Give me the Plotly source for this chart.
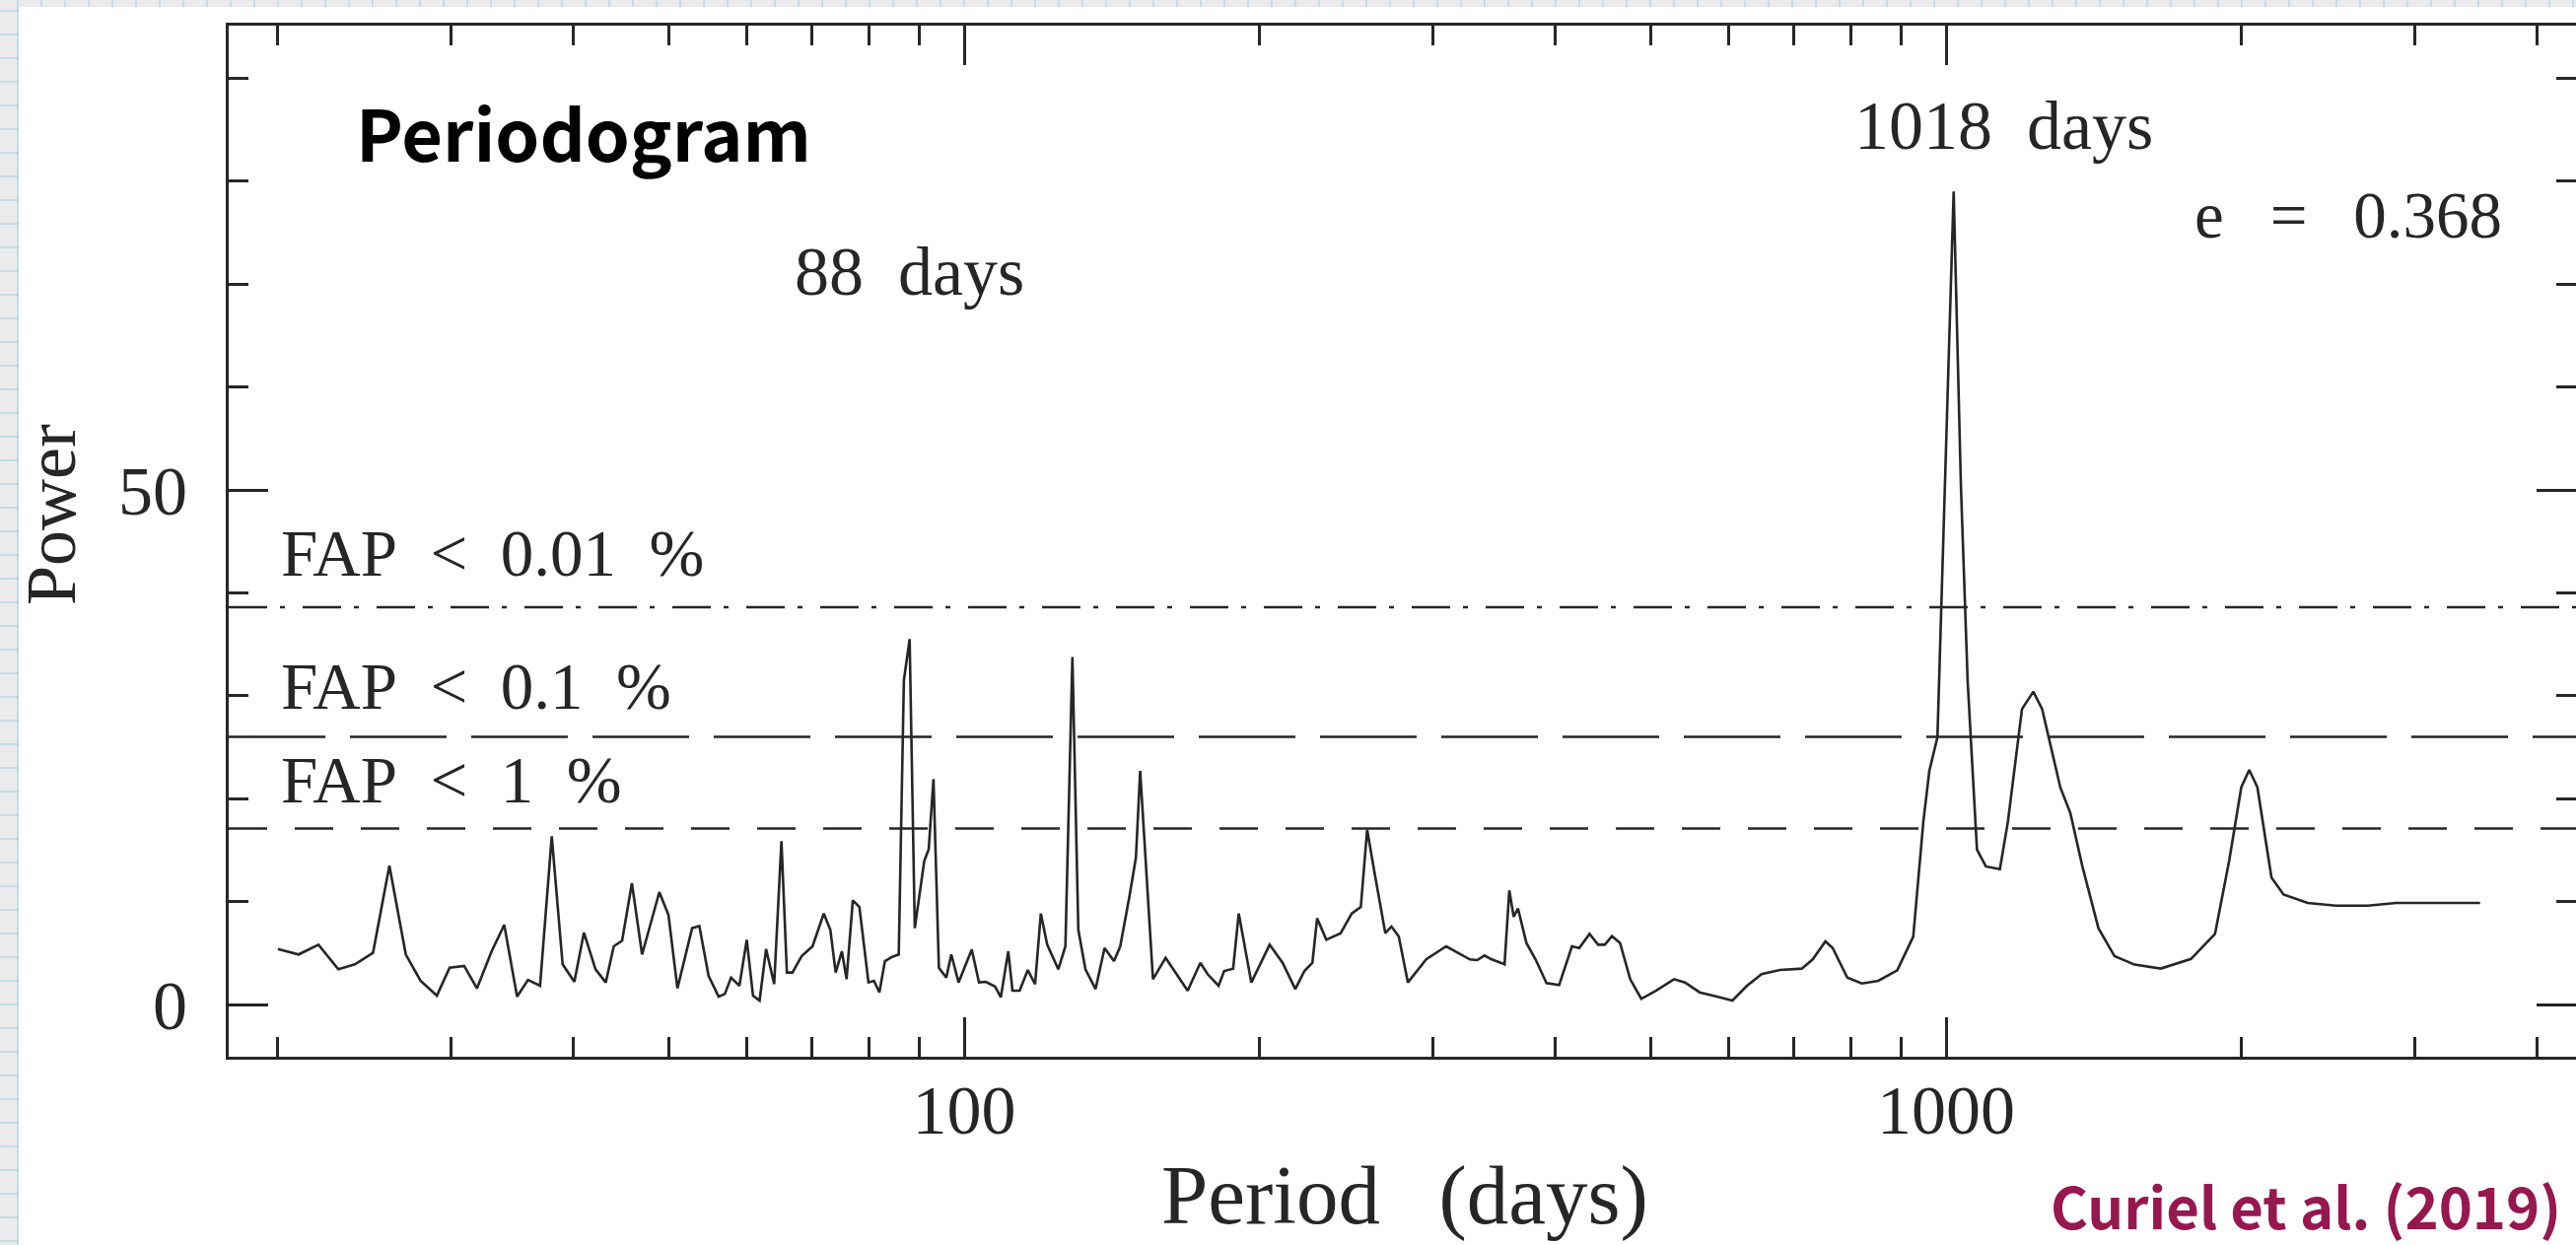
import plotly.graph_objects as go

# ---------------------------------------------------------------------------
# Periodogram of the astrometric residuals (period in days vs. power)
# ---------------------------------------------------------------------------
period_days = [
    20.0, 21.0, 22.0, 23.05, 23.96, 25.0, 25.98, 27.0, 27.95, 29.04,
    29.92, 30.96, 31.9, 33.02, 34.01, 35.05, 35.96, 36.99, 38.02, 39.0,
    40.09, 41.0, 42.13, 43.15, 43.97, 44.84, 45.88, 46.99, 48.93, 49.99,
    51.05, 52.84, 53.74, 54.92, 56.23, 57.05, 57.89, 59.04, 60.06, 60.95,
    61.9, 62.85, 64.05, 65.15, 65.99, 66.85, 68.3, 70.08, 71.95, 73.07,
    73.99, 75.07, 75.9, 77.02, 78.22, 79.9, 80.93, 81.97, 83.04, 84.47,
    85.78, 86.82, 88.0, 89.07, 91.07, 92.02, 93.06, 94.25, 95.9, 97.03,
    98.7, 101.8, 103.55, 105.25, 107.5, 108.98, 110.9, 112.0, 113.9, 116.1,
    118.1, 119.7, 121.5, 124.7, 126.8, 128.9, 130.7, 132.9, 136.1, 139.0,
    142.1, 144.2, 147.3, 149.6, 151.1, 155.7, 160.4, 163.2, 168.9, 174.0,
    177.0, 181.6, 184.0, 187.9, 190.4, 196.1, 204.7, 211.0, 217.4, 222.1,
    226.3, 228.8, 233.8, 241.8, 248.2, 253.5, 257.3, 262.1, 268.5, 272.4,
    277.1, 283.1, 295.5, 309.7, 327.4, 333.0, 338.8, 344.6, 355.1, 359.1,
    362.8, 366.5, 373.8, 381.9, 391.8, 403.6, 415.9, 423.1, 433.4, 442.3,
    449.2, 456.9, 465.6, 476.8, 489.3, 506.3, 528.5, 542.2, 561.1, 583.1,
    605.9, 627.0, 648.8, 677.2, 712.9, 731.4, 753.6, 766.6, 793.3, 820.9,
    853.1, 891.9, 926.0, 948.2, 961.6, 980.0, 1018.0, 1035.4, 1052.0, 1075.2,
    1097.8, 1134.6, 1156.2, 1194.9, 1227.0, 1252.8, 1307.2, 1338.4, 1376.7, 1429.6,
    1484.6, 1556.3, 1654.6, 1775.9, 1879.1, 1942.4, 1998.4, 2036.0, 2075.4, 2145.0,
    2206.6, 2335.1, 2494.6, 2689.7, 2873.7, 3158.0, 3498.5,
]
power = [
    5.39, 4.86, 5.81, 3.42, 3.90, 5.01, 13.48, 4.86, 2.30, 0.86,
    3.57, 3.74, 1.56, 5.17, 7.73, 0.77, 2.39, 1.82, 16.35, 3.90,
    2.20, 6.99, 3.42, 2.14, 5.65, 6.20, 11.78, 4.86, 10.92, 8.69,
    1.56, 7.41, 7.63, 2.78, 0.77, 1.02, 2.61, 1.82, 6.29, 0.86,
    0.38, 5.39, 1.98, 15.87, 3.10, 3.10, 4.69, 5.65, 8.84, 7.25,
    3.10, 5.17, 2.46, 10.12, 9.48, 2.14, 2.30, 1.18, 4.21, 4.63,
    4.86, 31.5, 35.5, 7.41, 13.95, 15.07, 21.9, 3.57, 2.61, 4.86,
    2.14, 5.33, 2.14, 2.20, 1.75, 0.70, 5.17, 1.34, 1.34, 3.35,
    1.98, 8.84, 5.81, 3.42, 5.65, 33.75, 7.25, 3.42, 1.50, 5.49,
    4.21, 5.65, 10.44, 14.27, 22.7, 2.46, 4.53, 3.42, 1.34, 4.05,
    2.94, 1.82, 3.26, 3.48, 8.84, 2.14, 5.81, 4.05, 1.50, 3.26,
    4.05, 8.37, 6.29, 6.93, 8.84, 9.48, 16.98, 12.52, 6.93, 7.57,
    6.61, 2.14, 4.38, 5.65, 4.38, 4.31, 4.76, 4.38, 3.90, 11.08,
    8.53, 9.32, 5.97, 4.38, 2.08, 1.88, 5.65, 5.49, 6.86, 5.81,
    5.81, 6.64, 5.97, 2.46, 0.55, 1.34, 2.46, 2.14, 1.18, 0.80,
    0.38, 1.82, 2.94, 3.35, 3.48, 4.38, 6.13, 5.49, 2.61, 2.04,
    2.30, 3.32, 6.60, 17.78, 22.7, 25.96, 79.0, 50.5, 31.4, 15.05,
    13.42, 13.14, 17.78, 28.7, 30.4, 28.7, 21.1, 18.6, 13.42, 7.41,
    4.69, 3.87, 3.49, 4.42, 6.87, 13.97, 21.1, 22.8, 21.1, 12.33,
    10.69, 9.87, 9.60, 9.60, 9.87, 9.87, 9.87,
]

# False-alarm-probability thresholds
fap_levels = [38.6, 26.0, 17.1]
fap_labels = ["FAP\u2002&lt;\u20020.01\u2002%", "FAP\u2002&lt;\u20020.1\u2002%", "FAP\u2002&lt;\u20021\u2002%"]

# Axis ticks
x_major = [100, 1000]
x_major_text = ["100", "1000"]
x_minor = [20, 30, 40, 50, 60, 70, 80, 90,
           200, 300, 400, 500, 600, 700, 800, 900,
           2000, 3000, 4000]
y_major = [0, 50, 100]
y_major_text = ["0", "50", "100"]
y_minor = [10, 20, 30, 40, 60, 70, 80, 90]

# ---------------------------------------------------------------------------
# Page geometry (pixels)
# ---------------------------------------------------------------------------
W, H = 2613, 1263
PL, PT, PR, PB = 232, 26, 2613, 1072          # plot frame
X_DECADE_PX = 996.0                            # one decade on the period axis
X100_PX = 978.0                                # where P = 100 d sits
Y0_PX, Y_PER_UNIT = 1019.0, 10.44              # power = 0 and px per unit

x_lo = 2 + (PL - X100_PX) / X_DECADE_PX
x_hi = 2 + (PR - X100_PX) / X_DECADE_PX
y_lo = -(PB - Y0_PX) / Y_PER_UNIT
y_hi = (Y0_PX - PT) / Y_PER_UNIT


def px_x(x):
    return (x - PL) / (PR - PL)


def px_y(y):
    return (PB - y) / (PB - PT)


INK = "#262626"
SERIF = "Liberation Serif, Times New Roman, serif"
HAND = "Noto Sans CJK SC, Noto Sans, sans-serif"
PAPER_GREY = "#ebebeb"
GRID_BLUE = "rgba(140,200,232,0.55)"

fig = go.Figure()

fig.add_trace(go.Scatter(
    x=period_days, y=power, mode="lines",
    line=dict(color=INK, width=2.6),
    hoverinfo="skip", showlegend=False,
))
# empty trace that carries the right-hand tick axis
fig.add_trace(go.Scatter(x=[], y=[], yaxis="y2", showlegend=False, hoverinfo="skip"))

shapes = []

# graph-paper backdrop around the white card
for k in range(0, 110):
    gx = 18 + 24 * k
    shapes.append(dict(type="line", xref="paper", yref="paper", layer="below",
                       x0=px_x(gx), x1=px_x(gx), y0=px_y(0), y1=px_y(H),
                       line=dict(color=GRID_BLUE, width=1.5)))
for k in range(0, 54):
    gy = 11 + 24 * k
    shapes.append(dict(type="line", xref="paper", yref="paper", layer="below",
                       x0=px_x(0), x1=px_x(W), y0=px_y(gy), y1=px_y(gy),
                       line=dict(color=GRID_BLUE, width=1.5)))
shapes.append(dict(type="rect", xref="paper", yref="paper", layer="below",
                   x0=px_x(19), x1=px_x(W + 20), y0=px_y(7), y1=px_y(H + 20),
                   fillcolor="white", line=dict(width=0)))

# FAP threshold lines
fap_dash = ["39px,13px,5px,18px", "98px,25px", "39px,28px"]
for level, dash in zip(fap_levels, fap_dash):
    shapes.append(dict(type="line", xref="paper", yref="y", layer="above",
                       x0=0, x1=1, y0=level, y1=level,
                       line=dict(color=INK, width=2.6, dash=dash)))

annotations = []


def label(text, x, y, size, xanchor="left", font=SERIF, color=INK, angle=0):
    annotations.append(dict(
        text=text, xref="paper", yref="paper", x=px_x(x), y=px_y(y),
        xanchor=xanchor, yanchor="middle", showarrow=False, textangle=angle,
        font=dict(family=font, size=size, color=color),
    ))


# threshold captions sit just above their lines
fap_caption_y = [561, 696, 791]
for text, cy in zip(fap_labels, fap_caption_y):
    label(text, 283, cy, 67)

label("88\u2002days", 922, 275, 70, xanchor="center")
label("1018\u2002days", 2032, 127, 70, xanchor="center")
label("e\u2002\u2009=\u2002\u20090.368", 2382, 218, 67, xanchor="center")

label("<b>Periodogram</b>", 592, 132, 72, xanchor="center", font=HAND, color="#000000")
label("<b>Curiel et al. (2019)</b>", 2600, 1222, 58, xanchor="right", font=HAND,
      color="#96184f")

label("Period\u2002\u2009(days)", 1425, 1212, 85, xanchor="center")
label("Power", 52, 522, 72, xanchor="center", angle=-90)

tick_style = dict(
    ticks="inside", ticklen=40, tickwidth=2.5, tickcolor=INK,
    showgrid=False, zeroline=False, automargin=False,
    tickfont=dict(family=SERIF, size=70, color=INK),
)
minor_y = dict(tickmode="array", tickvals=y_minor, ticks="inside",
               ticklen=20, tickwidth=2.5, tickcolor=INK, showgrid=False)

fig.update_layout(
    width=W, height=H,
    margin=dict(l=PL, r=W - PR, t=PT, b=H - PB, pad=0),
    paper_bgcolor=PAPER_GREY,
    plot_bgcolor="white",
    showlegend=False,
    shapes=shapes,
    annotations=annotations,
    xaxis=dict(
        type="log", range=[x_lo, x_hi],
        showline=True, linecolor=INK, linewidth=3, mirror="ticks",
        tickmode="array", tickvals=x_major, ticktext=x_major_text,
        ticklabelstandoff=-9,
        minor=dict(tickmode="array", tickvals=x_minor, ticks="inside",
                   ticklen=20, tickwidth=2.5, tickcolor=INK, showgrid=False),
        **tick_style,
    ),
    yaxis=dict(
        range=[y_lo, y_hi],
        showline=True, linecolor=INK, linewidth=3, mirror=False,
        tickmode="array", tickvals=y_major, ticktext=y_major_text,
        ticklabelstandoff=25,
        minor=minor_y,
        **tick_style,
    ),
    # right-hand ticks only; the frame edge itself runs off the page
    yaxis2=dict(
        range=[y_lo, y_hi], overlaying="y", side="right", anchor="x",
        showline=False, showticklabels=False,
        tickmode="array", tickvals=y_major,
        minor=minor_y,
        **tick_style,
    ),
)

fig.write_html("out.html", config={"displayModeBar": False})
